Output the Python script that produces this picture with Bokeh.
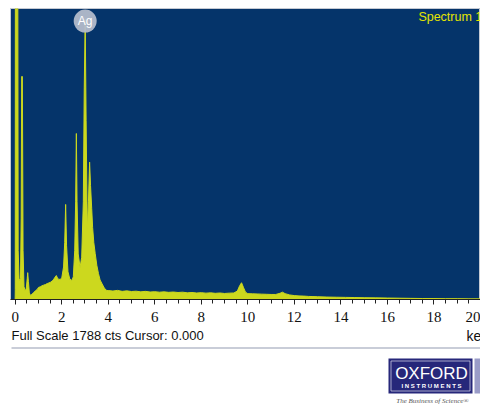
from bokeh.plotting import figure
from bokeh.layouts import column
from bokeh.models import Range1d, FixedTicker
from bokeh.core.properties import value
from bokeh.embed import file_html
from bokeh.resources import INLINE

# ---- data ----
kev = [0.00, 0.005, 0.01, 0.11, 0.13, 0.17, 0.23, 0.26, 0.28, 0.31, 0.34, 0.38, 0.43, 0.48,
       0.52, 0.54, 0.57, 0.61, 0.66, 0.72, 0.80, 0.88, 0.95, 1.00, 1.08, 1.15, 1.22, 1.30,
       1.38, 1.45, 1.52, 1.60, 1.66, 1.72, 1.77, 1.82, 1.88, 1.94,
       2.00, 2.08, 2.13, 2.17, 2.21, 2.27, 2.35, 2.44,
       2.50, 2.56, 2.60, 2.63, 2.66, 2.71, 2.79,
       2.86, 2.93, 2.97, 3.01, 3.05, 3.10,
       3.15, 3.20, 3.24, 3.29, 3.33, 3.38, 3.44, 3.51, 3.58, 3.65, 3.73, 3.83, 3.94,
       4.0, 4.2, 4.4, 4.6, 4.8, 5.0, 5.2, 5.4, 5.6, 5.8, 6.0, 6.2, 6.4, 6.6, 6.8, 7.0,
       7.2, 7.4, 7.6, 7.8, 8.0, 8.2, 8.4, 8.6, 8.8, 9.0, 9.2, 9.4, 9.55, 9.65, 9.73,
       9.81, 9.9, 10.0, 10.2, 10.4, 10.6, 10.8, 11.0, 11.2, 11.38, 11.49, 11.6, 11.8,
       12.0, 12.2, 12.4, 12.6, 12.8, 13.0, 13.4, 13.8, 14.2, 14.6, 15.0, 15.5, 16.0,
       16.5, 17.0, 17.5, 18.0, 18.5, 19.0, 19.5, 20.0]
counts = [0, 60, 2400, 2400, 300, 117, 130, 500, 1370, 1370, 300, 80, 50, 70,
          130, 165, 110, 40, 25, 32, 43, 55, 62, 74, 78, 84, 88, 92,
          98, 102, 106, 115, 125, 138, 147, 132, 123, 125,
          130, 200, 350, 584, 330, 170, 125, 117,
          140, 300, 600, 1020, 600, 280, 197,
          260, 600, 1300, 1720, 1100, 420,
          600, 844, 700, 560, 442, 350, 283, 210, 160, 120, 98, 70, 55,
          55, 52, 56, 50, 53, 49, 51, 47, 50, 46, 48, 45, 47, 44, 46, 43,
          45, 41, 43, 40, 42, 39, 41, 38, 40, 37, 39, 40, 52, 85, 103,
          75, 45, 36, 35, 34, 33, 32, 31, 31, 38, 45, 36, 28,
          24, 22, 21, 19, 18, 17, 15, 14, 13, 12, 11, 10, 9,
          8, 7, 6, 6, 5, 5, 4, 4]
full_scale = 1788
tick_values = [0, 2, 4, 6, 8, 10, 12, 14, 16, 18, 20]
minor_tick_values = [i * 0.5 for i in range(41)]
peak_label = "Ag"
peak_kev = 3.01
spectrum_name = "Spectrum 1"
footer_text = "Full Scale 1788 cts Cursor: 0.000"
unit_label = "keV"

BLUE = "#05346a"
YELLOW = "#ccd81e"

# ---- spectrum figure ----
p = figure(width=480, height=329, x_range=Range1d(-0.2, 20.0),
           y_range=Range1d(0, full_scale), output_backend="svg",
           toolbar_location=None, y_axis_location=None,
           min_border_left=10, min_border_right=0, min_border_top=8,
           min_border_bottom=30)
p.background_fill_color = BLUE
p.border_fill_color = "white"
p.outline_line_color = "#c5cad3"
p.outline_line_width = 1
p.grid.visible = False

p.varea(x=kev, y1=[0] * len(kev), y2=counts, fill_color=YELLOW)
p.line(x=kev, y=counts, line_color=YELLOW, line_width=1)

# Ag peak marker
p.scatter(x=[peak_kev], y=[1711], size=23, fill_color="#b3bccb",
          fill_alpha=0.95, line_color=None)
p.text(x=[peak_kev], y=[1711], text=[peak_label], text_color="white",
       text_font=value("Liberation Sans"), text_font_size="12px",
       text_align="center", text_baseline="middle")

p.text(x=[17.33], y=[1733], text=[spectrum_name], text_color="#e4e400",
       text_font=value("Liberation Sans"), text_font_size="12.5px",
       text_align="left", text_baseline="middle")

ax = p.xaxis[0]
ax.ticker = FixedTicker(ticks=tick_values, minor_ticks=minor_tick_values)
ax.major_tick_in = 0
ax.major_tick_out = 5
ax.minor_tick_in = 0
ax.minor_tick_out = 4
ax.axis_line_color = "#222222"
ax.major_tick_line_color = "#222222"
ax.minor_tick_line_color = "#222222"
ax.major_label_text_font = "Liberation Sans Narrow"
ax.major_label_text_font_size = "15px"
ax.major_label_text_color = "#111111"
ax.major_label_standoff = 7

# ---- footer figure (its frame is aligned with the spectrum frame: x 10..480) ----
f = figure(width=480, height=81, x_range=Range1d(10, 480), y_range=Range1d(81, 0),
           output_backend="svg", toolbar_location=None,
           x_axis_location=None, y_axis_location=None,
           min_border=0, min_border_left=10)
f.outline_line_color = None
f.grid.visible = False
f.background_fill_color = "white"
f.border_fill_color = "white"

f.text(x=[11], y=[6], text=[footer_text], text_color="#111111",
       text_font=value("Liberation Sans"), text_font_size="13px",
       text_align="left", text_baseline="middle")
f.text(x=[466], y=[6], text=[unit_label], text_color="#111111",
       text_font=value("Liberation Sans"), text_font_size="14px",
       text_align="left", text_baseline="middle")
f.segment(x0=[11], y0=[18.5], x1=[480], y1=[18.5], line_color="#c9cdd8", line_width=2)

# logo
f.rect(x=[430], y=[46.5], width=84, height=35, fill_color="#26277a", line_color=None)
f.rect(x=[430], y=[46.5], width=79, height=30, fill_color=None, line_color="#c8c8e0", line_width=0.8)
f.rect(x=[478], y=[46.5], width=8, height=35, fill_color="#9a9cc8", line_color=None)
f.text(x=[431], y=[44], text=["OXFORD"], text_color="white",
       text_font=value("Liberation Sans"), text_font_size="17px",
       text_align="center", text_baseline="middle")
f.text(x=[431], y=[56.5], text=["I N S T R U M E N T S"], text_color="white",
       text_font=value("Liberation Sans"), text_font_size="6px", text_font_style="bold",
       text_align="center", text_baseline="middle")
f.text(x=[432], y=[71], text=["The Business of Science\u00ae"], text_color="#555555",
       text_font=value("Liberation Serif"), text_font_size="7px", text_font_style="italic",
       text_align="center", text_baseline="middle")

layout = column(p, f, spacing=0)
open("out.html", "w").write(file_html(layout, INLINE))
